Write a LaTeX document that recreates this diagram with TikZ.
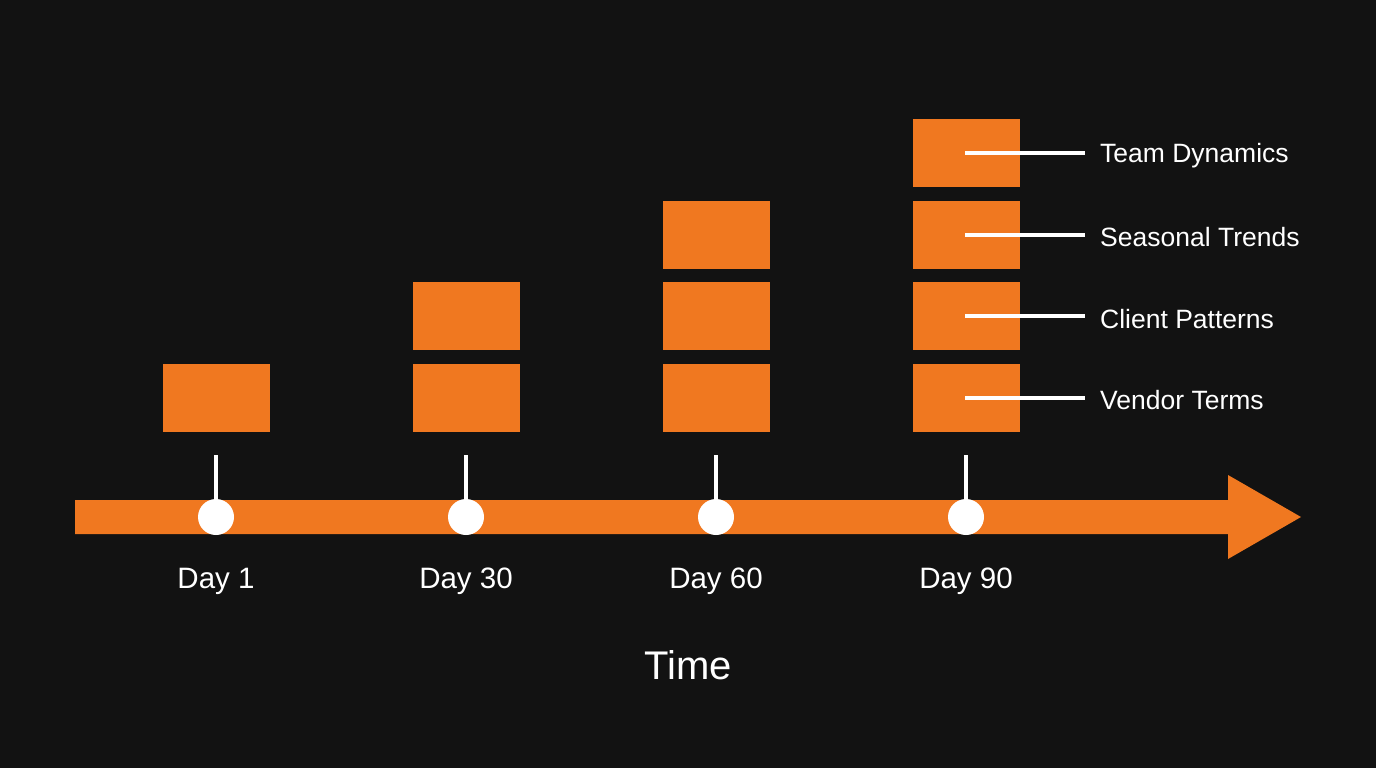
\documentclass[tikz,border=0pt]{standalone}
\usepackage{fontspec}
\setmainfont{Liberation Sans}
\definecolor{bg}{HTML}{121212}
\definecolor{org}{HTML}{F07820}
\begin{document}
\begin{tikzpicture}[x=1pt,y=-1pt,
  blk/.style={rectangle,fill=org,minimum width=107pt,minimum height=68pt,inner sep=0pt},
  dot/.style={circle,fill=white,minimum size=36pt,inner sep=0pt},
  stem/.style={draw=white,line width=4pt},
  tick/.style={draw=white,line width=4pt},
  daylbl/.style={text=white,font=\fontsize{29.5}{34}\selectfont},
  itemlbl/.style={text=white,font=\fontsize{26.5}{30}\selectfont,anchor=west,inner xsep=15pt,inner ysep=0pt}]
\fill[bg] (0,0) rectangle (1376,768);
\useasboundingbox (0,0) rectangle (1376,768);
% timeline arrow
\fill[org] (75,500) -- (1228,500) -- (1228,475) -- (1301,517) -- (1228,559) -- (1228,534) -- (75,534) -- cycle;
% blocks
\node[blk] (a1) at (216.5,397.5) {};
\node[blk] (b1) at (466.5,397.5) {};
\node[blk] (b2) at (466.5,316) {};
\node[blk] (c1) at (716.5,397.5) {};
\node[blk] (c2) at (716.5,316) {};
\node[blk] (c3) at (716.5,234.5) {};
\node[blk] (e1) at (966.5,397.5) {};
\node[blk] (e2) at (966.5,316) {};
\node[blk] (e3) at (966.5,234.5) {};
\node[blk] (e4) at (966.5,153) {};
% stems and dots
\foreach \n/\x in {1/216,2/466,3/716,4/966}{
  \node[dot] (d\n) at (\x,517) {};
  \coordinate (s\n) at (\x,455);
  \draw[stem] (s\n) -- ([yshift=-2pt]d\n.north);
}
% day labels
\node[daylbl] (l1) at (216,581) {Day 1};
\node[daylbl] (l2) at (466,581) {Day 30};
\node[daylbl] (l3) at (716,581) {Day 60};
\node[daylbl] (l4) at (966,581) {Day 90};
\node[text=white,font=\fontsize{40}{46}\selectfont] (time) at (688,665) {Time};
% item labels
\node[itemlbl] (t4) at (1085,156) {Team Dynamics};
\node[itemlbl] (t3) at (1085,237.5) {Seasonal Trends};
\node[itemlbl] (t2) at (1085,319) {Client Patterns};
\node[itemlbl] (t1) at (1085,400.5) {Vendor Terms};
\foreach \n/\y in {4/153,3/234.5,2/316,1/397.5}{
  \coordinate (p\n) at (965,\y);
  \draw[tick] (p\n) -- (p\n -| t\n.west);
}
\end{tikzpicture}
\end{document}
